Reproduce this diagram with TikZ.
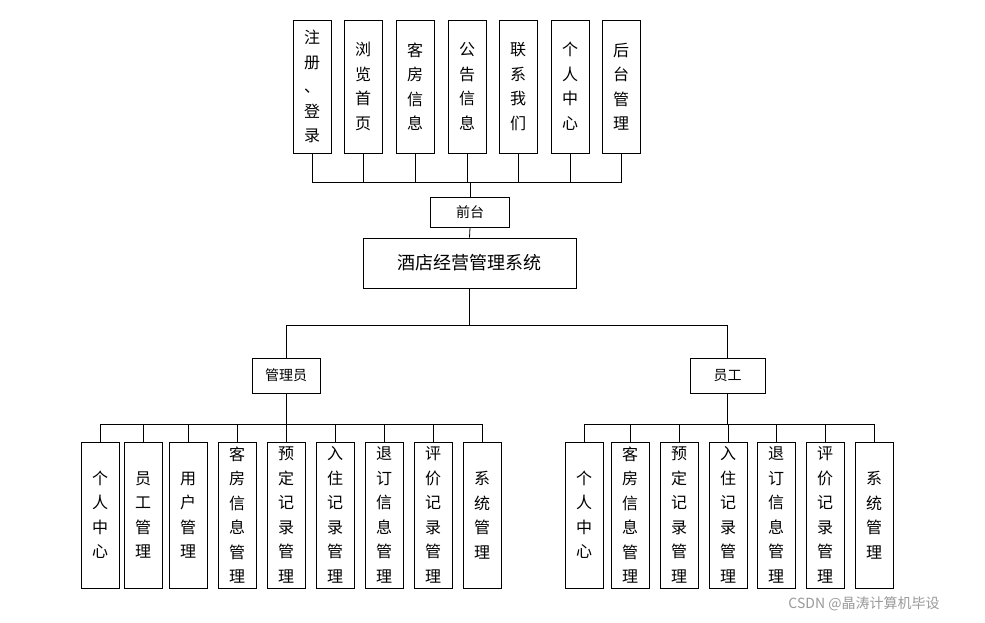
\documentclass[tikz,border=0pt]{standalone}
\usepackage{fontspec}
\setmainfont{Noto Sans CJK SC}
\usetikzlibrary{positioning}

\tikzset{
  box/.style={draw, line width=0.8pt, align=center, inner sep=0pt,
    font=\fontsize{16}{24.5}\selectfont},
  vbox/.style={box, minimum width=38pt},
  link/.style={line width=0.8pt}
}

\begin{document}
\begin{tikzpicture}[x=1pt, y=-1pt]
  \useasboundingbox (0,0) rectangle (985,622);

  % front side
  \foreach \i / \x / \lab in {1/312/{注\\册\\、\\登\\录}, 2/363/{浏\\览\\首\\页},
      3/415/{客\\房\\信\\息}, 4/467/{公\\告\\信\\息}, 5/518/{联\\系\\我\\们},
      6/570/{个\\人\\中\\心}, 7/621/{后\\台\\管\\理}} {
    \node[vbox, minimum height=133pt] (t\i) at (\x, 86.5) {\lab};
  }
  \coordinate (tbus) at (470, 182);
  \node[box, minimum width=79pt, minimum height=30pt, font=\fontsize{14}{16}\selectfont]
    (front) at (470, 212) {前台};
  \node[box, minimum width=213pt, minimum height=50pt, font=\fontsize{18}{20}\selectfont]
    (sys) at (469.5, 263) {酒店经营管理系统};
  \foreach \i in {1, 2, ..., 7} {
    \draw[link] (t\i.south) |- (tbus);
  }
  \draw[link] (tbus) -- (front.north);
  \draw[link] (front.south) -- (sys.north);

  % roles
  \coordinate (mbus) at (469.5, 325);
  \node[box, minimum width=68pt, minimum height=35pt, font=\fontsize{14}{16}\selectfont]
    (admin) at (286, 375.5) {管理员};
  \node[box, minimum width=75pt, minimum height=35pt, font=\fontsize{14}{16}\selectfont]
    (staff) at (727.5, 375.5) {员工};
  \draw[link] (sys.south) -- (mbus);
  \draw[link] (admin.north) |- (mbus);
  \draw[link] (staff.north) |- (mbus);

  % admin modules
  \coordinate (abus) at (286, 424);
  \foreach \i / \x / \lab in {1/100/{个\\人\\中\\心}, 2/143/{员\\工\\管\\理},
      3/188/{用\\户\\管\\理}, 4/237/{客\\房\\信\\息\\管\\理}, 5/286/{预\\定\\记\\录\\管\\理},
      6/335/{入\\住\\记\\录\\管\\理}, 7/384/{退\\订\\信\\息\\管\\理},
      8/433/{评\\价\\记\\录\\管\\理}, 9/482/{系\\统\\管\\理}} {
    \node[vbox, minimum height=146pt] (a\i) at (\x, 515) {\lab};
    \draw[link] (a\i.north) |- (abus);
  }
  \draw[link] (admin.south) -- (abus);

  % staff modules
  \coordinate (sbus) at (727.5, 424);
  \foreach \i / \x / \lab in {1/584/{个\\人\\中\\心}, 2/630/{客\\房\\信\\息\\管\\理},
      3/679/{预\\定\\记\\录\\管\\理}, 4/728/{入\\住\\记\\录\\管\\理},
      5/776/{退\\订\\信\\息\\管\\理}, 6/825/{评\\价\\记\\录\\管\\理},
      7/874/{系\\统\\管\\理}} {
    \node[vbox, minimum height=146pt] (s\i) at (\x, 515) {\lab};
    \draw[link] (s\i.north) |- (sbus);
  }
  \draw[link] (staff.south) -- (sbus);

  \node[text=gray!80, font=\fontsize{14}{16}\selectfont] (mark) at (864, 604)
    {CSDN @晶涛计算机毕设};
\end{tikzpicture}
\end{document}
